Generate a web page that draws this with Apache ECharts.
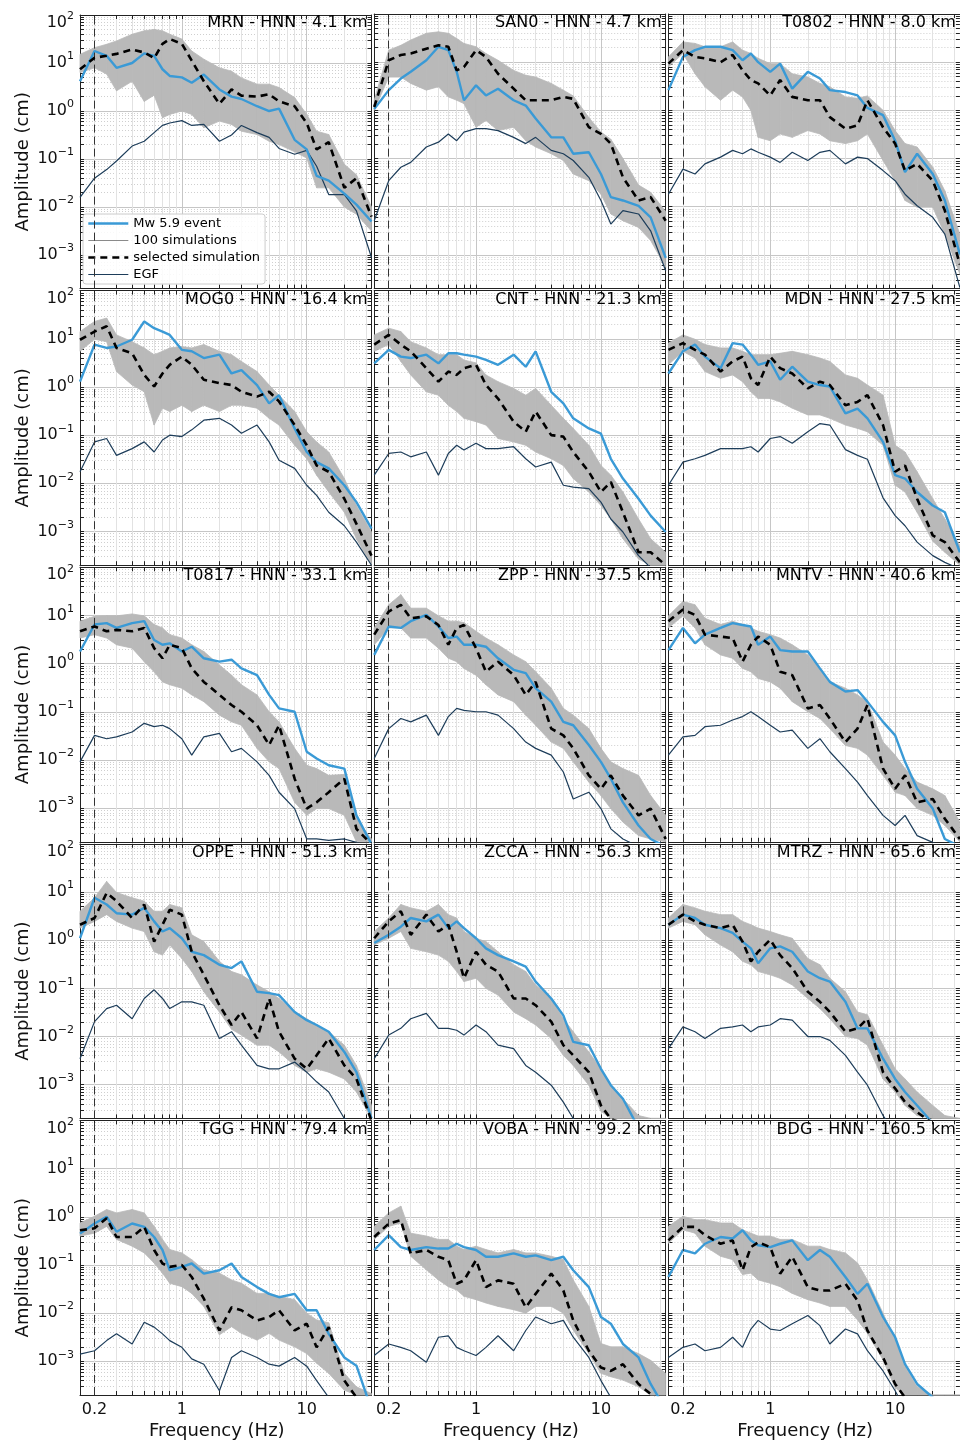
<!DOCTYPE html>
<html><head><meta charset="utf-8">
<script src="https://cdn.jsdelivr.net/npm/echarts@6/dist/echarts.min.js"></script>
<style>html,body{margin:0;padding:0;background:#fff}#c{width:960px;height:1443px}</style>
</head><body><div id="c"></div>
<script>
// Frequency samples (Hz)
const FREQ = [0.153,0.2,0.25,0.3,0.4,0.5,0.6,0.7,0.8,1,1.2,1.5,2,2.5,3,4,5,6,8,10,12,15,20,25,33];
// All amplitude arrays below are log10(amplitude in cm).
// event = Mw 5.9 event, sel = selected simulation, lo/hi = envelope of the 100 simulations, egf = EGF
const MRN_event=[0.62,1.25,1.15,0.9,1.0,1.2,1.15,0.87,0.73,0.7,0.59,0.76,0.45,0.3,0.25,0.1,0.0,0.05,-0.6,-0.8,-1.35,-1.45,-1.72,-1.95,-2.3];
const MRN_sel=[0.87,1.11,1.15,1.19,1.28,1.22,1.1,1.4,1.5,1.4,1.05,0.62,0.15,0.45,0.32,0.3,0.35,0.2,0.1,-0.25,-0.8,-0.65,-1.6,-1.4,-2.2];
const MRN_lo=[0.8,0.9,0.77,0.42,0.62,0.2,0.33,-0.14,-0.07,0,-0.07,-0.35,-0.21,-0.28,-0.42,-0.49,-0.63,-0.7,-0.85,-0.98,-1.6,-1.6,-2.0,-2.15,-2.5];
const MRN_hi=[1.18,1.32,1.39,1.46,1.6,1.67,1.7,1.67,1.6,1.5,1.25,1.08,0.9,0.83,0.69,0.56,0.56,0.49,0.28,-0.07,-0.42,-0.49,-1.11,-1.33,-2.0];
const MRN_egf=[-1.8,-1.4,-1.22,-1.04,-0.73,-0.63,-0.45,-0.3,-0.25,-0.2,-0.3,-0.28,-0.63,-0.5,-0.3,-0.45,-0.55,-0.78,-0.9,-0.82,-1.15,-1.74,-1.74,-2.08,-3.05];

const SAN0_event=[0.03,0.42,0.66,0.8,1.04,1.32,1.25,0.8,0.21,0.52,0.31,0.45,0.21,0.1,-0.17,-0.56,-0.56,-0.9,-0.87,-1.32,-1.8,-1.87,-1.98,-2.22,-3.06];
const SAN0_sel=[0.07,1.04,1.15,1.18,1.28,1.35,1.32,0.83,0.9,1.25,1.11,0.76,0.45,0.21,0.21,0.21,0.28,0.24,-0.35,-0.49,-0.69,-1.39,-1.87,-1.8,-2.29];
const SAN0_lo=[0,0.69,0.69,0.56,0.42,0.49,0.28,0.21,0.14,-0.35,-0.21,-0.42,-0.35,-0.63,-0.76,-0.9,-1.04,-1.32,-1.46,-1.74,-2.15,-2.29,-2.43,-2.7,-3.26];
const SAN0_hi=[0.21,1.25,1.35,1.46,1.6,1.63,1.6,1.49,1.39,1.32,1.18,1.04,0.83,0.73,0.69,0.56,0.42,0.3,-0.15,-0.45,-0.6,-1.0,-1.55,-1.7,-2.1];
const SAN0_egf=[-2.29,-1.46,-1.18,-1.08,-0.76,-0.66,-0.49,-0.63,-0.45,-0.38,-0.38,-0.42,-0.56,-0.69,-0.56,-0.83,-0.9,-1.04,-1.39,-1.87,-2.36,-2.08,-2.15,-2.5,-3.33];

const T0802_event=[0.42,1.11,1.25,1.32,1.32,1.25,1.04,1.18,1.0,0.8,0.97,0.45,0.8,0.66,0.42,0.38,0.31,0.05,-0.1,-0.63,-1.28,-0.9,-1.32,-1.87,-2.99];
const T0802_sel=[0.97,1.25,1.11,1.08,1.0,1.15,0.83,0.63,0.56,0.31,0.63,0.28,0.21,0.21,-0.14,-0.38,-0.31,0.21,-0.35,-0.69,-1.25,-1.11,-1.46,-2.08,-3.2];
const T0802_lo=[0.9,1.18,0.76,0.49,0.21,0.42,0.28,0,-0.56,-0.63,-0.49,-0.56,-0.42,-0.49,-0.63,-0.69,-0.63,-0.49,-1.04,-1.46,-1.87,-2.01,-2.01,-2.57,-3.4];
const T0802_hi=[1.11,1.42,1.39,1.32,1.32,1.42,1.25,1.18,1.08,0.97,0.97,0.76,0.69,0.56,0.49,0.28,0.25,0.3,0,-0.42,-0.69,-0.76,-1.18,-1.67,-2.57];
const T0802_egf=[-1.74,-1.22,-1.32,-1.11,-0.97,-0.83,-0.9,-0.8,-0.87,-0.97,-1.08,-0.87,-1.04,-0.87,-0.83,-1.11,-0.97,-1.0,-1.25,-1.46,-1.74,-1.98,-2.22,-2.57,-3.68];

const MOG0_event=[0.11,0.88,0.81,0.84,0.98,1.36,1.22,1.15,1.08,0.77,0.74,0.6,0.67,0.28,0.35,0.04,-0.34,-0.17,-0.86,-1.35,-1.56,-1.69,-2.04,-2.39,-2.94];
const MOG0_sel=[0.98,1.15,1.26,0.81,0.7,0.25,0.01,0.28,0.46,0.63,0.46,0.15,0.08,0.04,-0.1,-0.2,-0.1,-0.3,-0.79,-1.21,-1.63,-1.76,-2.32,-2.84,-3.5];
const MOG0_lo=[0.74,0.99,0.94,0.32,0.04,-0.1,-0.79,-0.44,-0.51,-0.38,-0.51,-0.38,-0.51,-0.38,-0.38,-0.44,-0.65,-0.79,-1.21,-1.49,-1.83,-2.18,-2.6,-3.15,-3.71];
const MOG0_hi=[1.15,1.36,1.43,1.08,0.94,0.81,0.67,0.74,0.81,0.84,0.81,0.88,0.74,0.67,0.53,0.32,0.04,-0.17,-0.51,-0.93,-1.14,-1.35,-1.9,-2.46,-3.01];
const MOG0_egf=[-1.76,-1.14,-1.07,-1.42,-1.28,-1.14,-1.35,-1.1,-1.0,-1.03,-0.89,-0.69,-0.65,-0.79,-0.96,-0.79,-1.14,-1.52,-1.69,-2.04,-2.25,-2.6,-2.88,-3.22,-3.7];

const CNT_event=[0.49,0.77,0.63,0.6,0.67,0.49,0.7,0.7,0.67,0.63,0.56,0.46,0.67,0.42,0.74,-0.1,-0.34,-0.65,-0.86,-0.97,-1.49,-1.9,-2.32,-2.67,-3.01];
const CNT_sel=[0.88,1.08,0.88,0.74,0.39,0.11,0.32,0.25,0.39,0.46,0.04,-0.24,-0.72,-0.93,-0.51,-1.0,-1.03,-1.35,-1.76,-2.18,-1.97,-2.6,-3.43,-3.43,-3.7];
const CNT_lo=[0.74,0.88,0.53,0.25,-0.1,-0.17,-0.38,-0.51,-0.65,-0.72,-0.79,-1.07,-1.14,-1.21,-1.35,-1.49,-1.63,-1.9,-2.18,-2.46,-2.74,-3.15,-3.57,-3.71,-3.75];
const CNT_hi=[1.08,1.22,1.15,0.94,0.81,0.67,0.67,0.67,0.56,0.5,0.25,0.11,-0.03,-0.17,-0.03,-0.38,-0.65,-0.86,-1.21,-1.63,-1.83,-2.18,-2.74,-3.15,-3.43];
const CNT_egf=[-1.83,-1.38,-1.35,-1.45,-1.35,-1.83,-1.38,-1.21,-1.31,-1.17,-1.28,-1.28,-1.24,-1.49,-1.66,-1.56,-2.04,-2.08,-2.11,-2.39,-2.74,-3.01,-3.5,-3.75,-3.8];

const MDN_event=[0.28,0.74,0.88,0.63,0.39,0.91,0.88,0.67,0.46,0.53,0.15,0.42,0.11,0.04,0.01,-0.55,-0.45,-0.65,-1.14,-1.83,-1.9,-2.18,-2.46,-2.6,-3.43];
const MDN_sel=[0.77,0.91,0.77,0.67,0.32,0.53,0.63,0.18,0.04,0.63,0.39,0.28,-0.03,0.11,0.04,-0.38,-0.31,-0.17,-0.79,-1.76,-1.63,-2.32,-3.08,-3.22,-3.64];
const MDN_lo=[0.46,0.74,0.6,0.32,0.18,0.25,0.11,-0.1,-0.24,-0.24,-0.31,-0.44,-0.58,-0.58,-0.65,-0.79,-0.86,-0.93,-1.21,-2.04,-2.18,-2.6,-3.2,-3.43,-3.71];
const MDN_hi=[0.91,1.08,0.99,0.88,0.81,0.81,0.74,0.67,0.67,0.67,0.7,0.74,0.67,0.6,0.53,0.25,0.18,0.04,-0.17,-1.21,-1.35,-1.76,-2.32,-2.74,-3.29];
const MDN_egf=[-2.04,-1.56,-1.49,-1.42,-1.28,-1.28,-1.28,-1.24,-1.35,-1.07,-1.03,-1.17,-0.93,-0.76,-0.79,-1.3,-1.42,-1.5,-2.3,-2.67,-2.88,-3.22,-3.5,-3.64,-3.78];

const T0817_event=[0.25,0.81,0.84,0.74,0.84,0.88,0.49,0.39,0.42,0.25,0.35,0.11,0.04,0.08,-0.1,-0.24,-0.65,-0.93,-1.0,-1.83,-1.97,-2.11,-2.18,-3.15,-3.75];
const T0817_sel=[0.67,0.77,0.67,0.7,0.67,0.74,0.32,0.11,0.39,0.32,-0.1,-0.38,-0.65,-0.86,-1.0,-1.28,-1.69,-1.28,-2.39,-3.01,-2.88,-2.67,-2.39,-3.43,-3.75];
const T0817_lo=[0.53,0.6,0.53,0.39,0.32,0.04,-0.17,-0.38,-0.44,-0.51,-0.65,-0.79,-1.07,-1.21,-1.28,-1.76,-2.04,-2.18,-2.88,-3.15,-3.01,-3.01,-3.15,-3.71,-3.8];
const T0817_hi=[0.88,0.98,0.99,0.99,1.03,0.99,0.81,0.74,0.6,0.53,0.39,0.25,-0.03,-0.24,-0.44,-0.65,-1.0,-1.21,-1.76,-2.11,-2.18,-2.32,-2.3,-3.22,-3.64];
const T0817_egf=[-2.04,-1.49,-1.56,-1.52,-1.42,-1.24,-1.31,-1.28,-1.35,-1.56,-1.9,-1.52,-1.45,-1.83,-1.76,-2.04,-2.32,-2.67,-3.01,-3.64,-3.64,-3.67,-3.64,-3.71,-3.8];

const ZPP_event=[0.18,0.77,0.74,0.88,1.01,0.77,0.53,0.56,0.39,0.39,0.35,0.11,-0.13,-0.2,-0.51,-0.79,-1.21,-1.28,-1.69,-2.04,-2.39,-2.88,-3.36,-3.64,-3.8];
const ZPP_sel=[0.6,1.08,1.22,0.94,0.98,0.8,0.39,0.74,0.8,0.32,-0.17,0.04,-0.24,-0.65,-0.38,-1.35,-1.49,-1.76,-2.32,-2.6,-2.32,-2.74,-3.15,-3.01,-3.64];
const ZPP_lo=[0.39,0.74,0.74,0.53,0.53,0.32,0.11,0.04,-0.1,-0.24,-0.44,-0.65,-0.79,-1.07,-1.28,-1.63,-1.76,-2.04,-2.46,-2.74,-3.01,-3.29,-3.57,-3.64,-3.71];
const ZPP_hi=[0.74,1.22,1.43,1.15,1.15,0.99,0.88,0.88,0.85,0.67,0.53,0.39,0.18,0.04,-0.17,-0.51,-0.93,-1.07,-1.35,-1.76,-2.04,-2.18,-2.32,-2.74,-3.15];
const ZPP_egf=[-1.97,-1.35,-1.14,-1.21,-1.07,-1.49,-1.1,-0.93,-0.97,-1.0,-1.0,-1.07,-1.35,-1.63,-1.76,-1.9,-2.25,-2.81,-2.67,-3.01,-3.43,-3.64,-3.8,-3.8,-3.8];

const MNTV_event=[0.28,0.74,0.42,0.6,0.74,0.84,0.8,0.77,0.39,0.56,0.28,0.25,0.25,-0.1,-0.38,-0.58,-0.55,-0.79,-1.21,-1.49,-2.04,-2.6,-3.01,-3.64,-3.8];
const MNTV_sel=[0.88,1.12,1.01,0.6,0.56,0.53,0.04,0.39,0.56,0.39,-0.17,-0.24,-0.93,-0.86,-1.14,-1.63,-1.35,-0.86,-2.18,-2.6,-2.32,-2.88,-2.81,-3.22,-3.64];
const MNTV_lo=[0.74,0.99,0.74,0.39,0.18,0.11,-0.1,-0.17,-0.31,-0.38,-0.51,-0.79,-1.0,-1.14,-1.35,-1.7,-1.76,-1.9,-2.32,-2.67,-2.74,-3.01,-3.15,-3.36,-3.71];
const MNTV_hi=[0.99,1.29,1.22,0.94,0.81,0.88,0.81,0.74,0.67,0.6,0.53,0.39,0.18,-0.1,-0.38,-0.51,-0.65,-0.8,-1.63,-1.9,-2.18,-2.46,-2.6,-2.74,-3.29];
const MNTV_egf=[-1.9,-1.52,-1.49,-1.31,-1.28,-1.17,-1.1,-1.0,-1.1,-1.28,-1.42,-1.38,-1.76,-1.56,-1.83,-2.18,-2.46,-2.74,-3.15,-3.36,-3.15,-3.57,-3.71,-3.8,-3.8];

const OPPE_event=[0.04,0.88,0.74,0.56,0.53,0.67,0.39,0.18,0.25,0.04,-0.24,-0.31,-0.51,-0.58,-0.44,-1.07,-1.1,-1.14,-1.49,-1.66,-1.76,-1.9,-2.32,-2.74,-3.7];
const OPPE_sel=[0.32,0.46,0.98,0.81,0.46,0.74,-0.03,0.32,0.63,0.53,-0.24,-0.72,-1.35,-1.76,-1.49,-2.04,-1.21,-1.9,-2.46,-2.67,-2.39,-2.04,-2.6,-2.88,-3.75];
const OPPE_lo=[0.25,0.39,0.53,0.39,0.25,0.18,-0.24,-0.31,-0.1,-0.38,-0.65,-1.07,-1.49,-1.85,-1.97,-2.18,-2.18,-2.32,-2.6,-2.74,-2.67,-2.74,-2.88,-3.15,-3.8];
const OPPE_hi=[0.6,0.88,1.22,0.99,0.88,0.81,0.6,0.6,0.74,0.67,0.11,-0.03,-0.44,-0.65,-0.72,-0.93,-1.07,-1.21,-1.49,-1.63,-1.76,-1.9,-2.18,-2.6,-3.43];
const OPPE_egf=[-2.46,-1.69,-1.42,-1.35,-1.63,-1.21,-1.03,-1.21,-1.42,-1.28,-1.28,-1.35,-2.04,-1.9,-2.18,-2.6,-2.67,-2.67,-2.53,-2.74,-2.94,-3.15,-3.7,-3.8,-3.8];

const ZCCA_event=[-0.06,0.11,0.28,0.46,0.39,0.53,0.25,0.39,0.25,0.04,-0.17,-0.31,-0.44,-0.55,-0.86,-1.21,-1.56,-2.11,-2.18,-2.67,-3.01,-3.29,-3.9,-4,-4];
const ZCCA_sel=[0.04,0.39,0.6,0.11,0.53,0.18,0.32,-0.24,-0.79,-0.24,-0.51,-0.65,-1.21,-1.21,-1.35,-1.69,-2.18,-2.39,-2.74,-3.43,-3.71,-3.8,-4,-4,-4];
const ZCCA_lo=[-0.1,0.04,0.18,-0.17,-0.24,-0.31,-0.44,-0.65,-0.86,-0.79,-1.0,-1.14,-1.49,-1.63,-1.76,-2.04,-2.39,-2.6,-3.01,-3.55,-3.75,-3.9,-4,-4,-4];
const ZCCA_hi=[0.18,0.46,0.74,0.67,0.6,0.74,0.53,0.46,0.18,0.04,-0.03,-0.24,-0.51,-0.65,-0.93,-1.21,-1.63,-1.9,-2.32,-2.67,-3.01,-3.29,-3.64,-3.78,-3.8];
const ZCCA_egf=[-2.46,-1.97,-1.83,-1.63,-1.52,-1.83,-1.83,-1.87,-1.97,-1.76,-1.9,-2.18,-2.25,-2.6,-2.74,-3.01,-3.36,-3.7,-4,-4,-4,-4,-4,-4,-4];

const MTRZ_event=[0.32,0.53,0.46,0.32,0.25,0.15,-0.03,-0.17,-0.48,-0.17,-0.13,-0.24,-0.65,-0.79,-0.86,-1.28,-1.83,-1.83,-2.46,-2.88,-3.15,-3.43,-3.8,-4,-4];
const MTRZ_sel=[0.32,0.53,0.39,0.32,0.25,0.32,-0.03,-0.44,-0.24,0.01,-0.31,-0.58,-1.07,-1.28,-1.49,-1.9,-1.83,-1.63,-2.74,-3.08,-3.36,-3.57,-3.8,-4,-4];
const MTRZ_lo=[0.25,0.39,0.32,0.11,-0.1,-0.24,-0.44,-0.51,-0.65,-0.72,-0.79,-0.93,-1.21,-1.42,-1.63,-2.0,-2.04,-2.18,-2.88,-3.15,-3.43,-3.64,-3.9,-4,-4];
const MTRZ_hi=[0.46,0.74,0.67,0.6,0.53,0.53,0.39,0.32,0.25,0.18,0.11,0.04,-0.38,-0.51,-0.79,-1.07,-1.49,-1.55,-2.18,-2.67,-2.88,-3.15,-3.43,-3.64,-3.71];
const MTRZ_egf=[-2.25,-1.8,-1.9,-2.04,-1.83,-1.8,-1.76,-1.9,-1.8,-1.76,-1.63,-1.66,-2.0,-2.0,-2.08,-2.39,-2.74,-3.01,-3.64,-4,-4,-4,-4,-4,-4];

const TGG_event=[-0.35,-0.14,0.0,-0.31,-0.14,-0.21,-0.42,-0.69,-1.11,-1.04,-0.97,-1.18,-1.11,-0.97,-1.25,-1.46,-1.6,-1.67,-1.6,-1.94,-1.94,-2.43,-2.92,-3.09,-4];
const TGG_sel=[-0.28,-0.24,-0.03,-0.42,-0.42,-0.21,-0.69,-0.97,-1.04,-1.0,-1.25,-1.7,-2.36,-1.88,-1.94,-2.15,-2.08,-1.94,-2.36,-2.22,-2.71,-2.29,-3.4,-3.75,-4];
const TGG_lo=[-0.4,-0.34,-0.2,-0.47,-0.61,-0.75,-0.96,-1.17,-1.38,-1.45,-1.59,-1.86,-2.45,-2.28,-2.42,-2.56,-2.42,-2.56,-2.7,-2.84,-3.04,-3.25,-3.6,-3.85,-4];
const TGG_hi=[-0.13,0.01,0.15,0.08,0.15,0.08,-0.2,-0.47,-0.68,-0.75,-0.89,-1.1,-1.17,-1.31,-1.38,-1.59,-1.59,-1.65,-1.72,-2.0,-2.14,-2.2,-3.25,-3.53,-3.67];
const TGG_egf=[-2.85,-2.78,-2.57,-2.43,-2.64,-2.19,-2.29,-2.43,-2.57,-2.71,-2.95,-3.06,-3.61,-2.92,-2.78,-2.92,-3.06,-3.1,-2.92,-3.1,-3.4,-3.75,-4,-4,-4];

const VOBA_event=[-0.69,-0.38,-0.63,-0.69,-0.63,-0.66,-0.66,-0.56,-0.63,-0.69,-0.83,-0.83,-0.76,-0.83,-0.8,-0.9,-0.83,-1.11,-1.46,-2.08,-2.22,-2.64,-2.92,-3.47,-4];
const VOBA_sel=[-0.42,-0.14,-0.07,-0.76,-0.69,-0.83,-0.9,-1.39,-1.32,-0.9,-1.46,-1.32,-1.39,-1.88,-1.6,-1.18,-1.53,-2.15,-2.78,-3.13,-3.2,-3.06,-3.47,-3.68,-4];
const VOBA_lo=[-0.47,-0.2,-0.13,-0.82,-1.1,-1.31,-1.45,-1.52,-1.65,-1.72,-1.79,-1.86,-1.93,-2.0,-1.86,-1.86,-2.0,-2.35,-2.84,-3.25,-3.32,-3.39,-3.53,-3.75,-4];
const VOBA_hi=[-0.2,0.08,0.22,-0.34,-0.4,-0.47,-0.47,-0.61,-0.68,-0.61,-0.68,-0.75,-0.68,-0.75,-0.75,-0.82,-0.89,-1.31,-1.86,-2.63,-2.7,-2.7,-2.84,-2.98,-3.25];
const VOBA_egf=[-2.88,-2.64,-2.71,-2.78,-3.02,-2.5,-2.47,-2.71,-2.78,-2.88,-2.71,-2.47,-2.78,-2.36,-2.08,-2.22,-2.15,-2.5,-2.92,-3.4,-3.75,-4,-4,-4,-4];

const BDG_event=[-1.25,-0.69,-0.76,-0.56,-0.42,-0.45,-0.28,-0.49,-0.59,-0.63,-0.56,-0.49,-0.9,-0.69,-0.83,-1.25,-1.6,-1.39,-2.08,-2.5,-3.06,-3.47,-3.75,-4,-4];
const BDG_sel=[-0.49,-0.21,-0.21,-0.38,-0.56,-0.49,-1.11,-0.63,-0.53,-0.63,-1.18,-0.83,-1.46,-1.53,-1.53,-1.39,-1.74,-2.36,-2.92,-3.47,-3.75,-4,-4,-4,-4];
const BDG_lo=[-0.55,-0.27,-0.34,-0.61,-0.82,-0.89,-1.2,-1.17,-1.31,-1.38,-1.45,-1.59,-1.72,-1.79,-1.86,-1.86,-2.14,-2.42,-2.97,-3.55,-3.85,-4,-4,-4,-4];
const BDG_hi=[-0.2,0.01,-0.06,-0.06,-0.13,-0.13,-0.27,-0.34,-0.4,-0.4,-0.47,-0.47,-0.61,-0.61,-0.68,-0.75,-0.96,-1.31,-2.0,-2.56,-3.11,-3.53,-3.74,-3.9,-4];
const BDG_egf=[-2.92,-2.71,-2.64,-2.78,-2.71,-2.5,-2.71,-2.33,-2.15,-2.33,-2.36,-2.22,-2.05,-2.26,-2.64,-2.33,-2.43,-2.78,-3.2,-3.61,-4,-4,-4,-4,-4];

const PANEL_TITLES = ['MRN - HNN - 4.1 km','SAN0 - HNN - 4.7 km','T0802 - HNN - 8.0 km',
  'MOG0 - HNN - 16.4 km','CNT - HNN - 21.3 km','MDN - HNN - 27.5 km',
  'T0817 - HNN - 33.1 km','ZPP - HNN - 37.5 km','MNTV - HNN - 40.6 km',
  'OPPE - HNN - 51.3 km','ZCCA - HNN - 56.3 km','MTRZ - HNN - 65.6 km',
  'TGG - HNN - 79.4 km','VOBA - HNN - 99.2 km','BDG - HNN - 160.5 km'];
const PANELS = [
  [MRN_event,MRN_sel,MRN_lo,MRN_hi,MRN_egf],[SAN0_event,SAN0_sel,SAN0_lo,SAN0_hi,SAN0_egf],[T0802_event,T0802_sel,T0802_lo,T0802_hi,T0802_egf],
  [MOG0_event,MOG0_sel,MOG0_lo,MOG0_hi,MOG0_egf],[CNT_event,CNT_sel,CNT_lo,CNT_hi,CNT_egf],[MDN_event,MDN_sel,MDN_lo,MDN_hi,MDN_egf],
  [T0817_event,T0817_sel,T0817_lo,T0817_hi,T0817_egf],[ZPP_event,ZPP_sel,ZPP_lo,ZPP_hi,ZPP_egf],[MNTV_event,MNTV_sel,MNTV_lo,MNTV_hi,MNTV_egf],
  [OPPE_event,OPPE_sel,OPPE_lo,OPPE_hi,OPPE_egf],[ZCCA_event,ZCCA_sel,ZCCA_lo,ZCCA_hi,ZCCA_egf],[MTRZ_event,MTRZ_sel,MTRZ_lo,MTRZ_hi,MTRZ_egf],
  [TGG_event,TGG_sel,TGG_lo,TGG_hi,TGG_egf],[VOBA_event,VOBA_sel,VOBA_lo,VOBA_hi,VOBA_egf],[BDG_event,BDG_sel,BDG_lo,BDG_hi,BDG_egf]
];
const LEGEND_NAMES = ['Mw 5.9 event','100 simulations','selected simulation','EGF'];
const X_TICKS = [0.2,0.3,0.4,0.5,0.6,0.7,0.8,0.9,1,2,3,4,5,6,7,8,9,10,20,30];
const X_MAJOR = [1,10];
const X_LABELS = [0.2,1,10];
const Y_LABELS = [1e-3,1e-2,1e-1,1,10,100];
const REF_FREQ = 0.2;

// ---- layout & style ----
const FONT = 'DejaVu Sans';
const X_MIN = 0.153, X_MAX = 33, Y_MIN = 2e-4, Y_MAX = 100;
const GRID_LEFT = [80, 374.2, 668.4], GRID_TOP = [14, 290.6, 567.2, 843.8, 1120.4];
const GW = 291.5, GH = 274.6;
const C_EVENT = '#3a9ad6', C_EGF = '#1d3d5a', C_SIM = '#b9b9b9';
const W_EVENT = 2.4, W_SEL = 2.6, W_EGF = 1.2, W_SIM = 1.2;

const Y_TICKS = [];
for (let d = -4; d <= 2; d++) for (let m = 1; m <= 9; m++) {
  const v = +(m * Math.pow(10, d)).toPrecision(3);
  if (v > Y_MIN * 1.01 && v <= Y_MAX * 1.001) Y_TICKS.push(v);
}
const isDecade = v => Math.abs(Math.log10(v) - Math.round(Math.log10(v))) < 1e-6;
const xSplitColors = X_TICKS.map(v => X_MAJOR.indexOf(v) >= 0 ? '#c6c6c6' : '#e2e2e2');
const yMinorColors = Y_TICKS.map(v => isDecade(v) ? 'rgba(0,0,0,0)' : '#cfcfcf');
const yMajorColors = Y_TICKS.map(v => isDecade(v) ? '#c6c6c6' : 'rgba(0,0,0,0)');

const toPts = arr => FREQ.map((f, i) => [f, Math.pow(10, arr[i])]);
const fmtX = v => String(+(+v).toPrecision(2));
const fmtY = v => {
  const n = Math.round(Math.log10(v));
  const s = '{b|10}{s|' + (n < 0 ? '\u2212' + (-n) : n) + '}';
  return n === 2 ? '{g| }\n' + s : s;
};

function bandItem(params, api) {
  const i = params.dataIndexInside;
  if (i >= params.dataInsideLength - 1) return null;
  const cs = params.coordSys;
  const cl = p => [p[0], Math.min(Math.max(p[1], cs.y), cs.y + cs.height)];
  const a = cl(api.coord([api.value(0, i), api.value(1, i)]));
  const b = cl(api.coord([api.value(0, i + 1), api.value(1, i + 1)]));
  const c = cl(api.coord([api.value(0, i + 1), api.value(2, i + 1)]));
  const d = cl(api.coord([api.value(0, i), api.value(2, i)]));
  return { type: 'polygon', shape: { points: [a, b, c, d] },
    style: { fill: C_SIM, stroke: C_SIM, lineWidth: 0.8 } };
}

const grids = [], xAxes = [], yAxes = [], series = [], titles = [];
const axLine = () => ({ show: true, onZero: false, lineStyle: { color: '#222', width: 1 } });
PANELS.forEach((p, k) => {
  const r = Math.floor(k / 3), c = k % 3;
  grids.push({ left: GRID_LEFT[c], top: GRID_TOP[r], width: GW, height: GH });
  const xBase = () => ({ gridIndex: k, type: 'log', logBase: 10, min: X_MIN, max: X_MAX, axisLine: axLine(),
    axisTick: { show: true, inside: true, length: 4, customValues: X_TICKS, lineStyle: { color: '#222' } },
    minorTick: { show: false }, minorSplitLine: { show: false } });
  xAxes.push(Object.assign(xBase(), { position: 'bottom',
    axisLabel: { show: r === 4, customValues: X_LABELS, formatter: fmtX, fontSize: 16, color: '#111', margin: 7, fontFamily: FONT },
    splitLine: { show: true, lineStyle: { color: xSplitColors, width: 1 } },
    name: r === 4 ? 'Frequency (Hz)' : '', nameLocation: 'middle', nameGap: 27,
    nameTextStyle: { fontSize: 18, color: '#111', fontFamily: FONT, padding: [0, 18, 0, 0] } }));
  xAxes.push(Object.assign(xBase(), { position: 'top', axisLabel: { show: false }, splitLine: { show: false } }));
  const yBase = () => ({ gridIndex: k, type: 'log', logBase: 10, min: Y_MIN, max: Y_MAX, axisLine: axLine(),
    axisTick: { show: true, inside: true, length: 4, customValues: Y_TICKS, lineStyle: { color: '#222' } },
    minorTick: { show: false }, minorSplitLine: { show: false } });
  yAxes.push(Object.assign(yBase(), { position: 'left',
    axisLabel: { show: c === 0, customValues: Y_LABELS, formatter: fmtY, margin: 6,
      rich: { b: { fontSize: 16, color: '#111', lineHeight: 24, fontFamily: FONT },
              s: { fontSize: 11, color: '#111', lineHeight: 12, verticalAlign: 'top', fontFamily: FONT },
              g: { fontSize: 6, lineHeight: 16 } } },
    splitLine: { show: true, lineStyle: { color: yMinorColors, width: 1, type: [1, 2] } },
    name: c === 0 ? 'Amplitude (cm)' : '', nameLocation: 'middle', nameGap: 48, nameRotate: 90,
    nameTextStyle: { fontSize: 18, color: '#111', fontFamily: FONT, padding: [0, 20, 0, 0] } }));
  yAxes.push(Object.assign(yBase(), { position: 'right', axisLabel: { show: false },
    splitLine: { show: true, lineStyle: { color: yMajorColors, width: 1 } } }));
  const xi = 2 * k, yi = 2 * k;
  series.push({ type: 'custom', name: 'sim envelope', xAxisIndex: xi, yAxisIndex: yi, z: 1, silent: true,
    renderItem: bandItem, encode: { x: 0, y: [1, 2] },
    data: FREQ.map((f, i) => [f, Math.pow(10, p[3][i]), Math.pow(10, p[2][i])]) });
  series.push({ type: 'line', name: 'EGF', xAxisIndex: xi, yAxisIndex: yi, z: 3, symbol: 'none', silent: true,
    data: toPts(p[4]), lineStyle: { color: C_EGF, width: W_EGF }, itemStyle: { color: C_EGF },
    markLine: { silent: true, symbol: ['none', 'none'], label: { show: false },
      lineStyle: { color: '#333', width: 1, type: [8, 4] }, data: [{ xAxis: REF_FREQ }] } });
  series.push({ type: 'line', name: 'Mw 5.9 event', xAxisIndex: xi, yAxisIndex: yi, z: 4, symbol: 'none', silent: true,
    data: toPts(p[0]), lineStyle: { color: C_EVENT, width: W_EVENT }, itemStyle: { color: C_EVENT } });
  series.push({ type: 'line', name: 'selected simulation', xAxisIndex: xi, yAxisIndex: yi, z: 5, symbol: 'none', silent: true,
    data: toPts(p[1]), lineStyle: { color: '#000', width: W_SEL, type: [7, 5] }, itemStyle: { color: '#000' } });
  titles.push({ text: PANEL_TITLES[k], right: 960 - (GRID_LEFT[c] + GW) + 4, top: GRID_TOP[r] + 1, padding: 0,
    textStyle: { fontSize: 16, fontWeight: 'normal', color: '#000', fontFamily: FONT } });
});
series.push({ type: 'line', name: '100 simulations', xAxisIndex: 0, yAxisIndex: 0, symbol: 'none', data: [],
  lineStyle: { color: '#8a8a8a', width: W_SIM }, itemStyle: { color: '#8a8a8a' } });

const legendWidths = [W_EVENT, W_SIM, W_SEL, W_EGF];
const chart = echarts.init(document.getElementById('c'), null, { renderer: 'canvas' });
chart.setOption({
  animation: false,
  backgroundColor: '#fff',
  textStyle: { fontFamily: FONT },
  title: titles,
  legend: { data: LEGEND_NAMES.map((n, i) => ({ name: n, lineStyle: { width: legendWidths[i] } })),
    left: 83, top: 214, orient: 'vertical', itemWidth: 40, itemHeight: 13, itemGap: 4,
    padding: [3, 5, 3, 4], backgroundColor: 'rgba(255,255,255,0.85)', borderColor: '#cccccc', borderWidth: 1, borderRadius: 3,
    selectedMode: false, itemStyle: { opacity: 0 },
    textStyle: { fontSize: 13, color: '#000', fontFamily: FONT } },
  grid: grids, xAxis: xAxes, yAxis: yAxes, series: series
});
</script></body></html>
